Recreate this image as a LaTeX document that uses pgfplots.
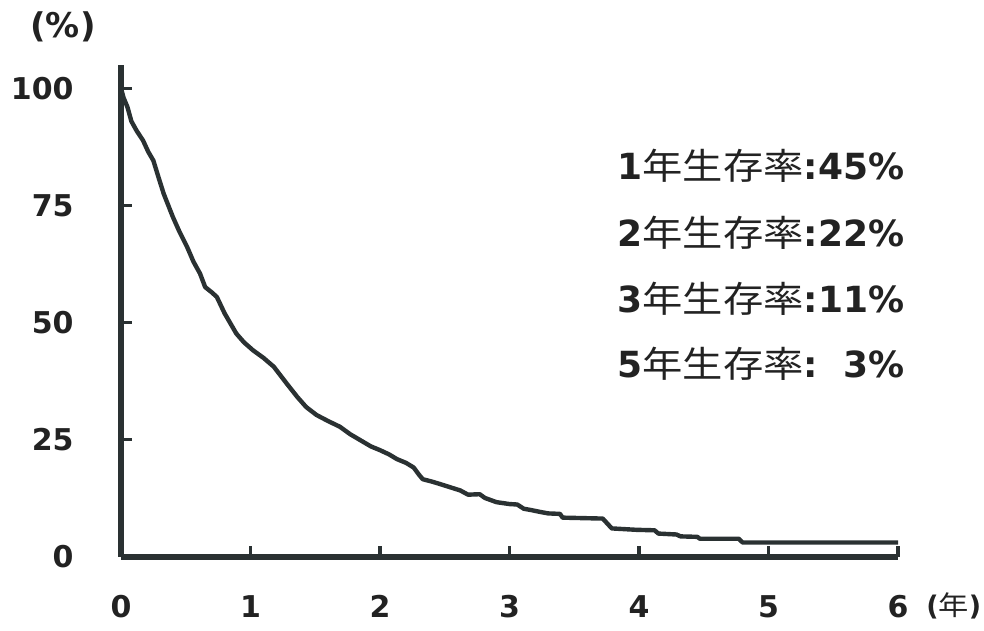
\documentclass[border=0pt]{standalone}
\usepackage{fontspec}
\usepackage{pgfplots}
\pgfplotsset{compat=1.18}
\setmainfont{DejaVu Sans}
\newfontfamily\cjk{Noto Sans CJK JP}[FakeStretch=1.12]
\definecolor{ink}{HTML}{2A3132}
\definecolor{txt}{HTML}{222222}

\pgfplotstableread{
x y
0.00 100
0.02 98
0.05 96
0.08 93
0.12 91
0.17 88.9
0.21 86.5
0.25 84.6
0.29 81
0.33 77.5
0.40 72.6
0.45 69.5
0.51 66.2
0.56 63
0.61 60.5
0.65 57.6
0.70 56.5
0.74 55.5
0.80 52
0.89 47.7
0.95 45.8
1.02 44.1
1.10 42.5
1.18 40.6
1.23 38.8
1.28 37.0
1.36 34.2
1.43 32
1.51 30.3
1.60 29
1.69 27.8
1.77 26.2
1.85 24.9
1.93 23.6
2.00 22.8
2.07 21.9
2.13 20.9
2.20 20.1
2.26 19.1
2.30 17.6
2.33 16.6
2.40 16.1
2.46 15.6
2.54 14.9
2.62 14.2
2.68 13.3
2.77 13.4
2.81 12.6
2.90 11.7
3.00 11.3
3.06 11.2
3.11 10.3
3.17 10.0
3.24 9.6
3.30 9.3
3.39 9.2
3.41 8.4
3.72 8.2
3.79 6.1
3.98 5.8
4.12 5.7
4.15 5.0
4.29 4.8
4.32 4.4
4.45 4.3
4.47 3.9
4.77 3.9
4.80 3.1
6.00 3.1
}\survtable

\begin{document}
\begin{tikzpicture}
\useasboundingbox (0,0) rectangle (492pt,315.5pt);
\begin{axis}[
  at={(60.5pt,37pt)}, anchor=south west,
  scale only axis, width=388.5pt, height=246pt,
  xmin=0, xmax=6, ymin=0, ymax=105,
  axis x line=bottom, axis y line=left,
  axis line style={-, line width=2.75pt, color=ink},
  tick align=inside, major tick length=5.5pt,
  tick style={line width=1.6pt, color=ink},
  xtick={0,1,2,3,4,5,6}, ytick={0,25,50,75,100},
  xticklabel style={anchor=north, inner sep=0pt, yshift=-19pt},
  yticklabel style={anchor=east, inner sep=0pt, xshift=-23.5pt},
  tick label style={font=\fontsize{15}{18}\selectfont\bfseries, text=txt},
  /pgf/number format/assume math mode=true,
  clip=false,
]
\addplot[color=ink, line width=2.2pt, line join=round] table[x=x, y=y] {\survtable};
\end{axis}
\node[inner sep=0pt, text=txt, font=\fontsize{17}{20}\selectfont\bfseries] at (31.5pt,302pt) {(\%)};
\node[anchor=west, inner sep=0pt, text=txt, font=\fontsize{13.5}{16}\selectfont\bfseries] at (463pt,12.5pt) {({\cjk\mdseries 年})};
\begin{scope}[every node/.style={inner sep=0pt, text=txt, font=\fontsize{18}{21}\selectfont\bfseries}]
\node[anchor=base west] at (308.5pt,225.5pt) {1{\cjk\mdseries 年生存率}:};
\node[anchor=base east] at (452.5pt,225.5pt) {45\%};
\node[anchor=base west] at (308.5pt,192pt) {2{\cjk\mdseries 年生存率}:};
\node[anchor=base east] at (452.5pt,192pt) {22\%};
\node[anchor=base west] at (308.5pt,159pt) {3{\cjk\mdseries 年生存率}:};
\node[anchor=base east] at (452.5pt,159pt) {11\%};
\node[anchor=base west] at (308.5pt,126.5pt) {5{\cjk\mdseries 年生存率}:};
\node[anchor=base east] at (452.5pt,126.5pt) {3\%};
\end{scope}
\end{tikzpicture}
\end{document}
